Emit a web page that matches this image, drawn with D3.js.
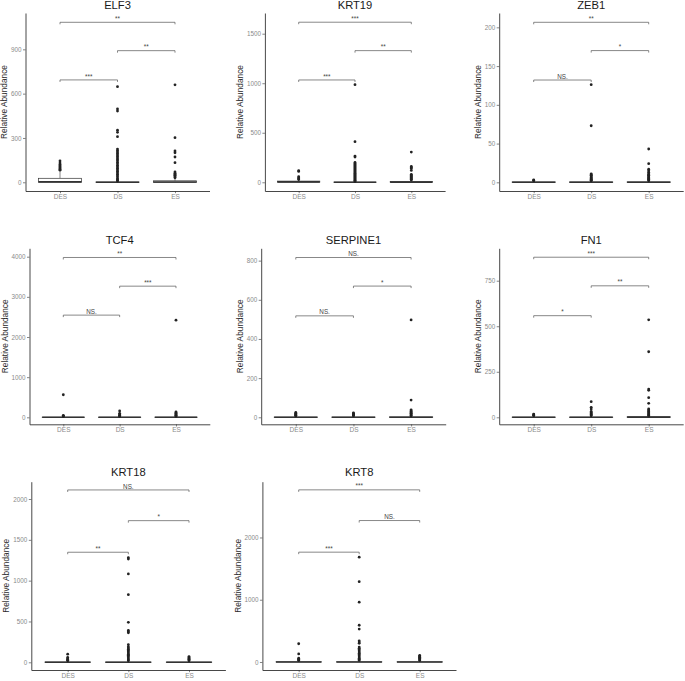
<!DOCTYPE html>
<html>
<head>
<meta charset="utf-8">
<script src="https://cdn.jsdelivr.net/npm/d3@7"></script>
<style>
  html, body { margin: 0; padding: 0; background: #fff; }
  svg { display: block; font-family: "Liberation Sans", Arial, sans-serif; }
</style>
</head>
<body>
<svg id="chart" width="685" height="681"></svg>
<script>
// ---------------- DATA ----------------
const genes = ["ELF3", "KRT19", "ZEB1", "TCF4", "SERPINE1", "FN1", "KRT18", "KRT8"];
const groups = ["DES", "DS", "ES"];
const yAxisTitle = "Relative Abundance";

const yTicks = [
  [0, 300, 600, 900],
  [0, 500, 1000, 1500],
  [0, 50, 100, 150, 200],
  [0, 1000, 2000, 3000, 4000],
  [0, 200, 400, 600, 800],
  [0, 250, 500, 750],
  [0, 500, 1000, 1500, 2000],
  [0, 1000, 2000]
];

const yDomains = [
  [-59, 1146], [-88, 1709], [-11.2, 218.5],
  [-174, 4209], [-35.8, 863], [-38.4, 928],
  [-94.3, 2212], [-128.7, 2896]
];

// box stats per group: [lowerWhisker, q1, median, q3, upperWhisker]
const boxStats = [
  [[0, 1, 3, 27, 75], [0, 0, 0, 2, 5], [0, 0, 2, 10, 25]],
  [[0, 1, 4, 12, 25], [0, 0, 0, 2, 5], [0, 0, 2, 9, 18]],
  [[0, 0, 0, 0.5, 1], [0, 0, 0, 0.5, 1], [0, 0, 0, 0.6, 1.5]],
  [[0, 0, 0, 3, 8], [0, 0, 0, 3, 8], [0, 0, 0, 4, 10]],
  [[0, 0, 0, 1, 3], [0, 0, 0, 1, 3], [0, 0, 0, 2, 5]],
  [[0, 0, 0, 1, 3], [0, 0, 0, 1, 3], [0, 0, 1, 3, 6]],
  [[0, 0, 1, 4, 10], [0, 0, 0, 3, 8], [0, 0, 0, 3, 8]],
  [[0, 0, 1, 4, 10], [0, 0, 0, 3, 8], [0, 0, 0, 3, 8]]
];

const outliers = [
  [
    [144, 130, 120, 112, 105, 98, 92, 86, 82],
    [647, 496, 482, 353, 338, 309, 225, 215, 205, 195, 185, 175, 165, 155, 145, 135, 125, 115, 105, 95, 85, 75, 65, 55, 45, 35, 25, 18, 12, 8],
    [660, 302, 212, 200, 171, 133, 70, 62, 55, 48, 42, 36, 30]
  ],
  [
    [117, 110, 56, 45, 35, 28],
    [985, 410, 265, 255, 200, 190, 180, 170, 160, 150, 140, 130, 120, 110, 100, 90, 80, 70, 60, 50, 40, 30, 20, 12, 8],
    [305, 160, 150, 140, 120, 80, 70, 60, 50, 40, 30, 22]
  ],
  [
    [3, 2.5, 2],
    [126, 73, 11, 10, 9, 8, 7, 6, 5, 4, 3, 2.5, 2],
    [43, 24, 17, 15, 13, 11, 10, 9, 8, 7, 6, 5, 4, 3, 2]
  ],
  [
    [562, 50, 30, 20],
    [157, 100, 70, 50, 35, 20],
    [2420, 135, 115, 95, 80, 65, 50, 35, 20]
  ],
  [
    [25, 20, 17, 14, 11, 8, 6],
    [23, 19, 16, 13, 10, 7],
    [497, 88, 38, 33, 29, 25, 21, 17, 13, 9, 6]
  ],
  [
    [18, 14, 10, 8],
    [86, 55, 45, 32, 26, 21, 16, 12, 8],
    [535, 360, 155, 148, 108, 77, 46, 40, 35, 30, 25, 20, 15, 10, 7]
  ],
  [
    [100, 60, 45, 35, 25, 18],
    [1282, 1265, 1082, 828, 490, 390, 375, 362, 215, 190, 175, 160, 145, 130, 115, 100, 85, 70, 55, 40, 28, 18],
    [70, 58, 48, 38, 28, 18]
  ],
  [
    [293, 130, 60, 45, 32, 22],
    [1683, 1290, 960, 590, 528, 340, 320, 300, 240, 220, 200, 180, 160, 140, 120, 100, 80, 60, 42, 25],
    [105, 95, 85, 75, 62, 48, 35, 22]
  ]
];

// significance brackets: [DES-DS, DS-ES, DES-ES]
const bracketY = [
  [693, 891, 1083],
  [1033, 1329, 1616],
  [132, 170, 206.5],
  [2545, 3266, 3980],
  [518, 670, 816],
  [558, 722, 879],
  [1348, 1735, 2111],
  [1764, 2272, 2765]
];
const sigLabels = [
  ["***", "**", "**"],
  ["***", "**", "***"],
  ["NS.", "*", "**"],
  ["NS.", "***", "**"],
  ["NS.", "*", "NS."],
  ["*", "**", "***"],
  ["**", "*", "NS."],
  ["***", "NS.", "***"]
];
const bracketPairs = [["DES", "DS"], ["DS", "ES"], ["DES", "ES"]];

// ---------------- LAYOUT ----------------
const panels = [
  { x0: 25.5, x1: 209.5, yTop: 13, yBot: 191, tY: 8.6 },
  { x0: 264.9, x1: 445.1, yTop: 13, yBot: 191, tY: 8.6 },
  { x0: 499.2, x1: 683.2, yTop: 13, yBot: 191, tY: 8.6 },
  { x0: 29.5, x1: 209.8, yTop: 248.3, yBot: 424.3, tY: 244 },
  { x0: 261.2, x1: 445.7, yTop: 248.3, yBot: 424.3, tY: 244 },
  { x0: 499.2, x1: 683.2, yTop: 248.3, yBot: 424.3, tY: 244 },
  { x0: 31.3, x1: 225.4, yTop: 481.7, yBot: 670, tY: 476 },
  { x0: 262.4, x1: 456, yTop: 481.7, yBot: 670, tY: 476 }
];

const svg = d3.select("#chart");
const axisColor = "#333";
const tickTextColor = "#8a8a8a";

genes.forEach((gene, i) => {
  const p = panels[i];
  const g = svg.append("g");
  const x = d3.scalePoint().domain(groups).range([p.x0, p.x1]).padding(0.6);
  const y = d3.scaleLinear().domain(yDomains[i]).range([p.yBot, p.yTop]);
  const bw = x.step() * 0.75;

  // title
  g.append("text")
    .attr("x", (p.x0 + p.x1) / 2).attr("y", p.tY)
    .attr("text-anchor", "middle")
    .attr("font-size", 11.2).attr("fill", "#1a1a1a")
    .text(gene);

  // y axis
  const ya = g.append("g").attr("transform", `translate(${p.x0},0)`)
    .call(d3.axisLeft(y).tickValues(yTicks[i]).tickFormat(d3.format("d"))
      .tickSize(2.5).tickSizeOuter(0).tickPadding(1.5));
  ya.select(".domain").attr("stroke", axisColor).attr("stroke-width", 0.9);
  ya.selectAll(".tick line").attr("stroke", axisColor).attr("stroke-width", 0.6);
  ya.selectAll(".tick text").attr("font-size", 6.3).attr("fill", tickTextColor)
    .attr("font-family", "Liberation Sans, Arial, sans-serif");

  // x axis
  const xa = g.append("g").attr("transform", `translate(0,${p.yBot})`)
    .call(d3.axisBottom(x).tickSize(2.2).tickSizeOuter(0).tickPadding(1.2));
  xa.select(".domain").attr("stroke", axisColor).attr("stroke-width", 0.9);
  xa.selectAll(".tick line").attr("stroke", axisColor).attr("stroke-width", 0.6);
  xa.selectAll(".tick text").attr("font-size", 6.5).attr("fill", tickTextColor)
    .attr("font-family", "Liberation Sans, Arial, sans-serif");

  // y axis title
  let maxW = 0;
  ya.selectAll(".tick text").each(function () { maxW = Math.max(maxW, this.getBBox().width); });
  const tx = p.x0 - 4 - maxW - 6.3;
  g.append("text")
    .attr("transform", `translate(${tx},${(p.yTop + p.yBot) / 2}) rotate(-90)`)
    .attr("text-anchor", "middle").attr("dominant-baseline", "central")
    .attr("font-size", 8.3).attr("fill", "#2a2a2a")
    .text(yAxisTitle);

  // boxes
  groups.forEach((grp, j) => {
    const [lw, q1, med, q3, uw] = boxStats[i][j];
    const cx = x(grp);
    g.append("line").attr("x1", cx).attr("x2", cx).attr("y1", y(q3)).attr("y2", y(uw))
      .attr("stroke", axisColor).attr("stroke-width", 0.6);
    g.append("line").attr("x1", cx).attr("x2", cx).attr("y1", y(q1)).attr("y2", y(lw))
      .attr("stroke", axisColor).attr("stroke-width", 0.6);
    g.append("rect")
      .attr("x", cx - bw / 2).attr("width", bw)
      .attr("y", y(q3)).attr("height", Math.max(0, y(q1) - y(q3)))
      .attr("fill", "#fff").attr("stroke", axisColor).attr("stroke-width", 0.7);
    g.append("line").attr("x1", cx - bw / 2).attr("x2", cx + bw / 2)
      .attr("y1", y(med)).attr("y2", y(med))
      .attr("stroke", "#333").attr("stroke-width", 1.6);
    g.selectAll(null).data(outliers[i][j]).enter().append("circle")
      .attr("cx", cx).attr("cy", d => y(d)).attr("r", 1.4)
      .attr("fill", "#222");
  });

  // significance brackets
  bracketPairs.forEach((pair, k) => {
    const xa1 = x(pair[0]), xa2 = x(pair[1]);
    const yy = y(bracketY[i][k]);
    const tip = 2;
    g.append("path")
      .attr("d", `M${xa1},${yy + tip}L${xa1},${yy}L${xa2},${yy}L${xa2},${yy + tip}`)
      .attr("fill", "none").attr("stroke", "#555").attr("stroke-width", 0.7);
    g.append("text")
      .attr("x", (xa1 + xa2) / 2).attr("y", yy - 1.4)
      .attr("text-anchor", "middle").attr("font-size", 6.3).attr("fill", "#444")
      .text(sigLabels[i][k]);
  });
});
</script>
</body>
</html>
